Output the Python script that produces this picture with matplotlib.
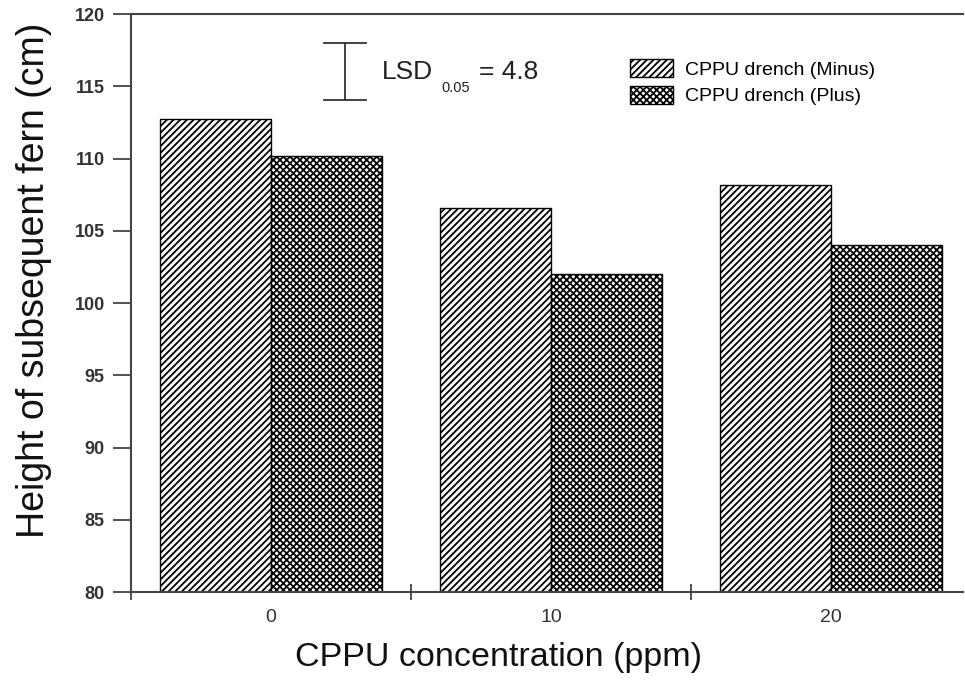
import numpy as np
import matplotlib.pyplot as plt

plt.rcParams['font.family'] = ['Liberation Sans', 'DejaVu Sans']
plt.rcParams['hatch.linewidth'] = 1.3
plt.rcParams['hatch.color'] = '#2a2a2a'

conc = ['0', '10', '20']
minus = [112.7, 106.6, 108.2]
plus = [110.2, 102.0, 104.0]
lsd_top = 118.0
lsd_bottom = 114.05

x = np.arange(len(conc))
w = 0.396

fig = plt.figure(figsize=(9.65, 6.83), dpi=100)
ax = fig.add_axes([0.1358, 0.1332, 0.862, 0.8463])

ax.bar(x - w / 2, minus, w, color='white', edgecolor='black',
       linewidth=1.0, hatch='/////', label='CPPU drench (Minus)')
ax.bar(x + w / 2, plus, w, color='white', edgecolor='black',
       linewidth=1.0, hatch='xxxxx', label='CPPU drench (Plus)')

ax.set_ylim(80, 120)
ax.set_xlim(-0.5, 2.471)

# LSD bar
lx = 0.264
ax.plot([lx, lx], [lsd_bottom, lsd_top], color='#333333', lw=1.3)
ax.plot([lx - 0.075, lx + 0.075], [lsd_top, lsd_top], color='#333333', lw=1.3)
ax.plot([lx - 0.075, lx + 0.075], [lsd_bottom, lsd_bottom], color='#333333', lw=1.3)
ax.text(0.302, 0.9, 'LSD', transform=ax.transAxes, fontsize=19,
        color='#222222', va='center')
ax.text(0.373, 0.872, '0.05', transform=ax.transAxes, fontsize=10.5,
        color='#222222', va='center')
ax.text(0.418, 0.9, '= 4.8', transform=ax.transAxes, fontsize=19,
        color='#222222', va='center')

# spines
for s in ['left', 'bottom', 'top']:
    ax.spines[s].set_color('#444444')
    ax.spines[s].set_linewidth(1.5)
ax.spines['right'].set_visible(False)

ax.set_yticks(np.arange(80, 121, 5))
ax.tick_params(axis='y', direction='out', length=13, width=1.3, color='#444444',
               labelsize=13, labelcolor='#333333', pad=6)
for t in ax.get_yticklabels():
    t.set_fontweight('bold')

ax.set_xticks(x)
ax.set_xticklabels(conc)
ax.set_xticks([-0.5, 0.5, 1.5], minor=True)
ax.tick_params(axis='x', which='major', length=0, labelsize=14, labelcolor='#333333', pad=12)
ax.tick_params(axis='x', which='minor', direction='inout', length=11, width=1.3, color='#444444')

ax.set_ylabel('Height of subsequent fern (cm)', fontsize=27, color='#111111')
ax.yaxis.set_label_coords(-0.095, 0.54)
ax.set_xlabel('CPPU concentration (ppm)', fontsize=24.5, color='#111111')
ax.xaxis.set_label_coords(0.442, -0.087)

ax.legend(loc='upper left', bbox_to_anchor=(0.6, 0.922), frameon=False, fontsize=14,
          handlelength=2.2, handleheight=1.05, handletextpad=0.6, labelspacing=0.35,
          borderaxespad=0, borderpad=0)

fig.savefig('out.png', dpi=100)
